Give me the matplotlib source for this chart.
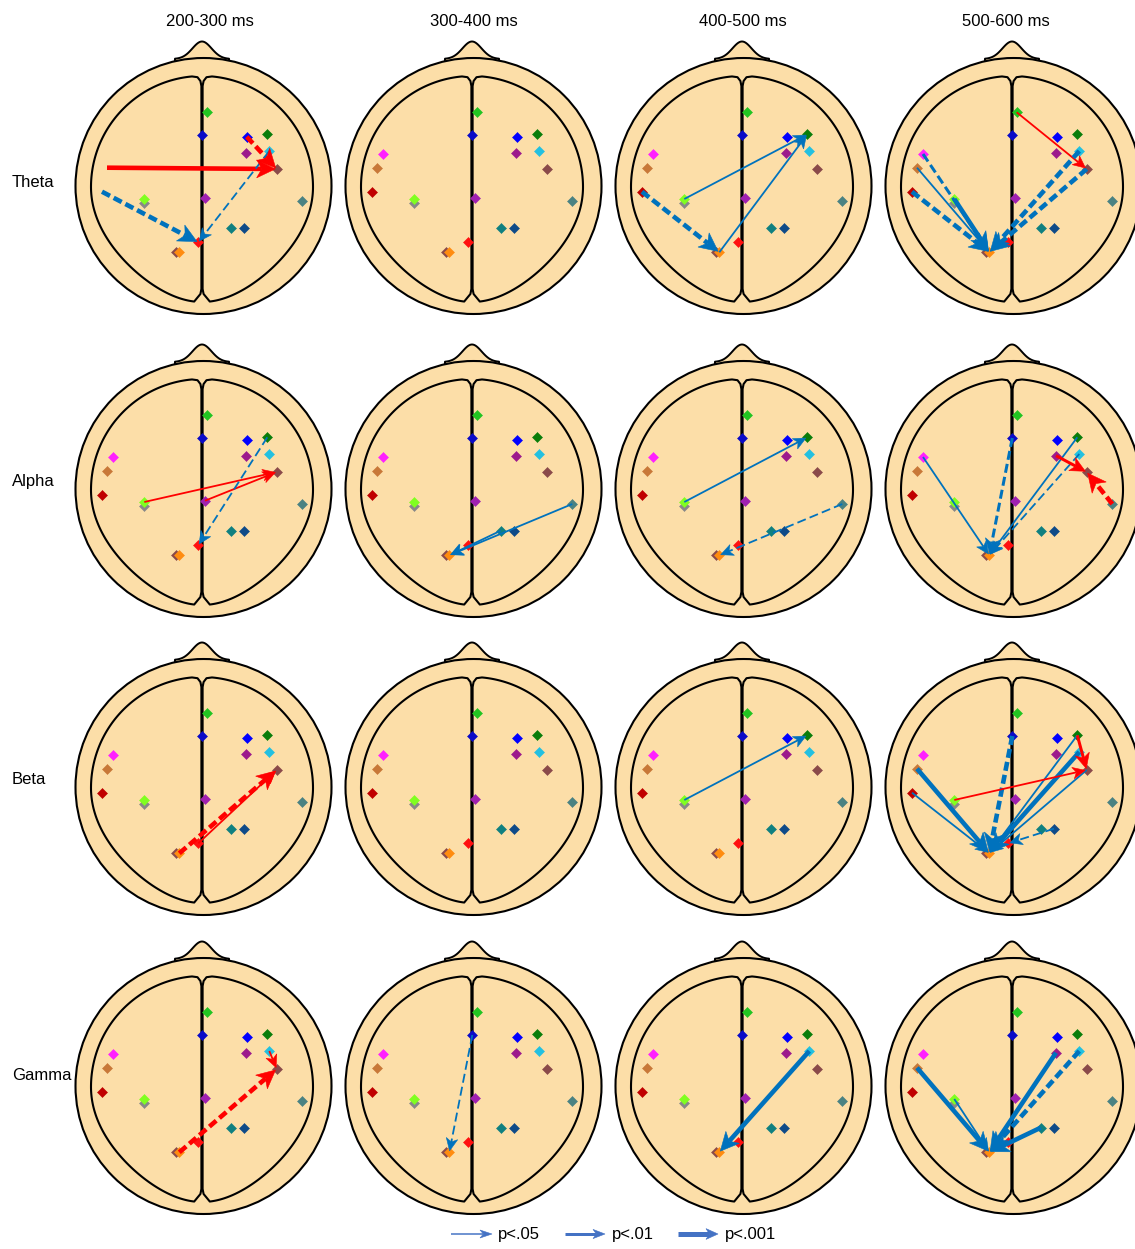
import numpy as np
import matplotlib
matplotlib.use('Agg')
import matplotlib.pyplot as plt
from matplotlib.patches import Circle, Polygon

plt.rcParams['font.family'] = ['Liberation Sans', 'DejaVu Sans']

# ---------------- data ----------------
bands = ['Theta', 'Alpha', 'Beta', 'Gamma']
windows = ['200-300 ms', '300-400 ms', '400-500 ms', '500-600 ms']

elec_names = ['Fz', 'FCz', 'F4', 'F6', 'FC4', 'FC6', 'C6', 'T8', 'Cz', 'CP3', 'C3',
              'CP2', 'CP4', 'Pz', 'PO3', 'P1', 'F7', 'FT7', 'T7']
elec_x = [4.7, 0.3, 44.7, 65.3, 44.0, 67.3, 74.7, 100.3, 3.0, -57.7, -57.7,
          28.7, 42.0, -3.7, -26.0, -22.7, -89.0, -95.0, -100.0]
elec_y = [-73.7, -51.0, -49.3, -51.7, -33.3, -35.0, -17.0, 15.0, 11.7, 17.3, 13.0,
          41.7, 41.7, 56.3, 66.3, 66.3, -32.0, -18.3, 5.7]
elec_colors = ['#22c422', '#0a0ac8', '#0000ff', '#0a7d0a', '#9c1a8c', '#23c0e0',
               '#8a4a4a', '#4a8282', '#a020b0', '#888888', '#80ff20',
               '#108080', '#0e4a88', '#ff1010', '#8a4a4a', '#ff8c10',
               '#ff20ff', '#c87838', '#c00000']
hidden_electrodes = {('Theta', '200-300 ms'): ['F7', 'FT7', 'T7']}

# connections: band, window, source, target, direction(+ red / - blue), dashed, p-level(1:.05, 2:.01, 3:.001)
arrow_band = ['Theta'] * 4 + ['Theta'] * 3 + ['Theta'] * 7 \
    + ['Alpha'] * 3 + ['Alpha'] * 2 + ['Alpha'] * 2 + ['Alpha'] * 6 \
    + ['Beta'] * 2 + ['Beta'] * 1 + ['Beta'] * 9 \
    + ['Gamma'] * 2 + ['Gamma'] * 1 + ['Gamma'] * 1 + ['Gamma'] * 5
arrow_win = ['200-300 ms'] * 4 + ['400-500 ms'] * 3 + ['500-600 ms'] * 7 \
    + ['200-300 ms'] * 3 + ['300-400 ms'] * 2 + ['400-500 ms'] * 2 + ['500-600 ms'] * 6 \
    + ['200-300 ms'] * 2 + ['400-500 ms'] * 1 + ['500-600 ms'] * 9 \
    + ['200-300 ms'] * 2 + ['300-400 ms'] * 1 + ['400-500 ms'] * 1 + ['500-600 ms'] * 5
arrow_src = ['FT7', 'F4', 'T7', 'FC6',
             'T7', 'C3', 'P1',
             'Fz', 'F7', 'FT7', 'T7', 'C3', 'FC6', 'C6',
             'C3', 'Cz', 'F6',
             'T8', 'CP2',
             'C3', 'T8',
             'F7', 'FCz', 'F6', 'FC6', 'FC4', 'T8',
             'P1', 'Pz',
             'C3',
             'FT7', 'T7', 'FCz', 'F6', 'FC6', 'C6', 'CP4', 'C3', 'F6',
             'P1', 'FC6',
             'FCz',
             'FC6',
             'FT7', 'C3', 'FC4', 'FC6', 'CP2']
arrow_dst = ['C6', 'C6', 'Pz', 'Pz',
             'P1', 'F6', 'F6',
             'C6', 'P1', 'P1', 'P1', 'P1', 'P1', 'P1',
             'C6', 'C6', 'Pz',
             'P1', 'P1',
             'F6', 'P1',
             'P1', 'P1', 'P1', 'P1', 'C6', 'C6',
             'C6', 'C6',
             'F6',
             'P1', 'P1', 'P1', 'P1', 'P1', 'P1', 'Pz', 'C6', 'C6',
             'C6', 'C6',
             'P1',
             'P1',
             'P1', 'P1', 'P1', 'P1', 'P1']
arrow_sign = ['+', '+', '-', '-',
              '-', '-', '-',
              '+', '-', '-', '-', '-', '-', '-',
              '+', '+', '-',
              '-', '-',
              '-', '-',
              '-', '-', '-', '-', '+', '+',
              '+', '+',
              '-',
              '-', '-', '-', '-', '-', '-', '-', '+', '+',
              '+', '+',
              '-',
              '-',
              '-', '-', '-', '-', '-']
arrow_dashed = [False, True, True, True,
                True, False, False,
                False, True, False, True, False, True, True,
                False, False, True,
                False, False,
                False, True,
                False, True, False, True, False, True,
                True, False,
                False,
                False, False, True, False, False, False, True, False, False,
                True, False,
                True,
                False,
                False, False, False, True, False]
arrow_p = [3, 3, 3, 1,
           3, 1, 1,
           1, 2, 1, 3, 3, 3, 3,
           1, 1, 1,
           1, 1,
           1, 1,
           1, 2, 1, 1, 2, 3,
           3, 1,
           1,
           3, 1, 3, 1, 3, 1, 1, 1, 2,
           3, 1,
           1,
           3,
           3, 1, 3, 3, 3]

legend_labels = ['p<.05', 'p<.01', 'p<.001']

# ---------------- styling ----------------
W, H = 1135, 1249
col_cx = [202, 472, 742, 1012]
row_cy = [186, 489, 787, 1086]
title_x = [210, 474, 743, 1006]
label_y = [182, 481, 779, 1076]
SKIN = '#FCDEA8'
RED = '#FF0000'
BLUE = '#0072BD'
LEG_BLUE = '#4472C4'
LW_PX = {1: 1.8, 2: 3.0, 3: 4.6}
HEAD = {1: (12.5, 5.8), 2: (15, 7.2), 3: (18.5, 9.0)}

fig = plt.figure(figsize=(W / 100, H / 100), dpi=100)
fig.patch.set_facecolor('white')

pos = {n: (x, y) for n, x, y in zip(elec_names, elec_x, elec_y)}


def add_arrow(ax, p0, p1, color, dashed, lw_px, hl, hw, shrink=1.5, zorder=6):
    """Arrow in an axes whose data units are pixels in both directions."""
    p0 = np.asarray(p0, float)
    p1 = np.asarray(p1, float)
    d = p1 - p0
    u = d / np.hypot(*d)
    n = np.array([-u[1], u[0]])
    tip = p1 - u * shrink
    base = tip - u * hl * 0.72
    lw = lw_px * 0.72
    kw = dict(color=color, lw=lw, solid_capstyle='butt', dash_capstyle='butt', zorder=zorder)
    if dashed:
        kw['dashes'] = [6.5 / lw, 3.0 / lw]
    ax.plot([p0[0], base[0]], [p0[1], base[1]], **kw)
    head = np.array([tip, tip - u * hl + n * hw, tip - u * hl * 0.72, tip - u * hl - n * hw])
    ax.add_patch(Polygon(head, closed=True, fc=color, ec=color, lw=0.4, zorder=zorder + 0.1))


def draw_head(ax):
    # nose
    xs = np.linspace(-27, 27, 81)
    ys = -127 - 17.5 * np.exp(-(xs / 13.5) ** 2)
    nose = np.vstack([[[-28, -112]], np.column_stack([xs, ys]), [[28, -112]]])
    ax.add_patch(Polygon(nose, closed=True, fc=SKIN, ec='black', lw=1.4, zorder=1,
                         joinstyle='round'))
    ax.add_patch(Circle((1.5, 0), 128, fc=SKIN, ec='black', lw=1.5, zorder=2))
    # hemispheres
    for s in (-1, 1):
        t = np.linspace(0.09, np.pi - 0.09, 200)
        a = 111.0
        b = np.where(np.cos(t) > 0, 111.0, 115.0)
        taper = 1 - 0.22 * np.clip(-np.cos(t), 0, None) ** 2
        ex = s * a * np.sin(t) * taper
        ey = -b * np.cos(t) + 1
        top = [[s * 0.6, -100], [s * 1.6, -105], [s * 4.5, -108.8]]
        bot = [[s * 4.5, 111.5], [s * 1.6, 108], [s * 0.6, 103]]
        pts = np.vstack([top, np.column_stack([ex, ey]), bot])
        ax.add_patch(Polygon(pts, closed=True, fc='none', ec='black', lw=1.5, zorder=3,
                             joinstyle='round'))


for r, band in enumerate(bands):
    for c, win in enumerate(windows):
        cx, cy = col_cx[c], row_cy[r]
        ax = fig.add_axes([(cx - 135) / W, 1 - (cy + 150) / H, 270 / W, 300 / H])
        ax.set_xlim(-135, 135)
        ax.set_ylim(150, -150)
        ax.axis('off')
        draw_head(ax)
        hidden = hidden_electrodes.get((band, win), [])
        for n_, x, y, col in zip(elec_names, elec_x, elec_y, elec_colors):
            if n_ in hidden:
                continue
            ax.plot(x, y, marker='D', ms=4.6, mfc=col, mec=col, mew=0.4, ls='none', zorder=4)
        for b_, w_, s_, d_, sg, ds, p in zip(arrow_band, arrow_win, arrow_src, arrow_dst,
                                             arrow_sign, arrow_dashed, arrow_p):
            if b_ == band and w_ == win:
                hl, hw = HEAD[p]
                add_arrow(ax, pos[s_], pos[d_], RED if sg == '+' else BLUE, ds,
                          LW_PX[p], hl, hw)

# overlay for texts and legend (data units = pixels)
ov = fig.add_axes([0, 0, 1, 1])
ov.set_xlim(0, W)
ov.set_ylim(H, 0)
ov.axis('off')
for c, win in enumerate(windows):
    ov.text(title_x[c], 21, win, ha='center', va='center', fontsize=12)
for r, band in enumerate(bands):
    ov.text(12, label_y[r], band, ha='left', va='center', fontsize=12)

leg_x0 = [451, 565, 678]
leg_x1 = [492, 605, 718]
leg_tx = [498, 612, 725]
leg_lw = [1.5, 3.0, 5.0]
leg_hw = [4.0, 4.6, 5.4]
for i, lab in enumerate(legend_labels):
    add_arrow(ov, (leg_x0[i], 1234), (leg_x1[i], 1234), LEG_BLUE, False,
              leg_lw[i], 12, leg_hw[i], shrink=0)
    ov.text(leg_tx[i], 1235, lab, ha='left', va='center', fontsize=12)

fig.savefig('out.png', dpi=100, facecolor='white')
